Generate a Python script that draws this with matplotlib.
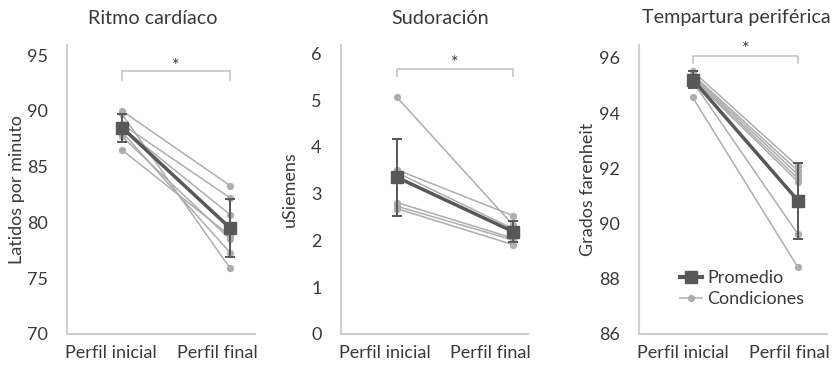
import matplotlib
matplotlib.use("Agg")
import matplotlib.pyplot as plt
from matplotlib.legend_handler import HandlerLine2D

plt.rcParams['font.family'] = ['Lato', 'DejaVu Sans']

# Categories shared by the three panels
categories = ["Perfil inicial", "Perfil final"]

# Ritmo cardíaco (latidos por minuto): one pair per condition
ritmo_inicial = [90.0, 89.7, 88.8, 88.5, 88.1, 87.7, 86.5]
ritmo_final = [83.3, 75.9, 82.2, 80.7, 77.3, 78.5, 78.8]
ritmo_promedio = [88.5, 79.5]
ritmo_de = [1.25, 2.63]

# Sudoración (uSiemens)
sudor_inicial = [5.06, 3.51, 3.45, 3.33, 2.81, 2.73, 2.68]
sudor_final = [2.33, 2.53, 2.25, 2.18, 2.05, 2.01, 1.91]
sudor_promedio = [3.35, 2.19]
sudor_de = [0.83, 0.22]

# Temperatura periférica (grados Fahrenheit)
temp_inicial = [95.52, 95.40, 95.35, 95.30, 95.25, 95.15, 94.57]
temp_final = [92.07, 91.91, 91.77, 91.63, 91.51, 89.61, 88.41]
temp_promedio = [95.22, 90.83]
temp_de = [0.32, 1.38]

titles = ["Ritmo cardíaco", "Sudoración", "Tempartura periférica"]
ylabels = ["Latidos por minuto", "uSiemens", "Grados farenheit"]

DARK = "#585858"
LIGHT = "#adadad"
AXIS = "#d0d0d0"
TEXT = "#3a3a3a"
FS = 13


class LeftMarkerHandler(HandlerLine2D):
    """Legend handle with the marker at the left end of the line."""

    def get_xdata(self, legend, xdescent, ydescent, width, height, fontsize):
        xdata = [-xdescent + 0.2 * width, -xdescent + width]
        return xdata, [-xdescent + 0.2 * width]


W, H = 836, 366
fig = plt.figure(figsize=(W / 100, H / 100), dpi=100)

# panel geometry in pixels: (left, right), x-limits, y-limits, ticks
panels = [
    dict(px=(67, 255), xlim=(-0.509, 1.231), ylim=(70, 95.9),
         yticks=[70, 75, 80, 85, 90, 95],
         ini=ritmo_inicial, fin=ritmo_final, prom=ritmo_promedio, de=ritmo_de,
         bracket=(92.76, 93.57), star=94.75, title_x=153, ylab_x=17),
    dict(px=(341, 528), xlim=(-0.483, 1.129), ylim=(0, 6.18),
         yticks=[0, 1, 2, 3, 4, 5, 6],
         ini=sudor_inicial, fin=sudor_final, prom=sudor_promedio, de=sudor_de,
         bracket=(5.52, 5.67), star=5.97, title_x=440, ylab_x=290),
    dict(px=(639, 827), xlim=(-0.51, 1.275), ylim=(86, 96.47),
         yticks=[86, 88, 90, 92, 94, 96],
         ini=temp_inicial, fin=temp_final, prom=temp_promedio, de=temp_de,
         bracket=(95.82, 96.06), star=96.63, title_x=736, ylab_x=588),
]

ax_bottom, ax_top = 334, 45
xs = [0, 1]

for i, p in enumerate(panels):
    l, r = p["px"]
    ax = fig.add_axes([l / W, (H - ax_bottom) / H, (r - l) / W, (ax_bottom - ax_top) / H])
    ax.set_xlim(*p["xlim"])
    ax.set_ylim(*p["ylim"])

    for a, b in zip(p["ini"], p["fin"]):
        ax.plot(xs, [a, b], color=LIGHT, lw=1.1, marker="o", ms=4.2,
                mfc=LIGHT, mec=LIGHT, zorder=2)
    ax.errorbar(xs, p["prom"], yerr=p["de"], fmt="none", ecolor=DARK,
                elinewidth=1.4, capsize=3.8, capthick=1.4, zorder=3)
    ax.plot(xs, p["prom"], color=DARK, lw=2.5, marker="s", ms=9,
            mfc=DARK, mec=DARK, zorder=4)

    # significance bracket
    lo, hi = p["bracket"]
    ax.plot([0, 0, 1, 1], [lo, hi, hi, lo], color="#bfbfbf", lw=1.1,
            clip_on=False, zorder=1)
    ax.text(0.5, p["star"], "*", ha="center", va="top", fontsize=13,
            color=TEXT, clip_on=False)

    for side in ("top", "right"):
        ax.spines[side].set_visible(False)
    for side in ("left", "bottom"):
        ax.spines[side].set_color(AXIS)
        ax.spines[side].set_linewidth(1.5)

    ax.set_yticks(p["yticks"])
    ax.set_yticklabels([str(t) for t in p["yticks"]])
    x0, x1 = p["xlim"]
    ax.set_xticks([x0 + 0.235 * (x1 - x0), x0 + 0.80 * (x1 - x0)])
    ax.set_xticklabels(categories)
    ax.tick_params(axis="y", length=0, pad=14, labelsize=FS, labelcolor=TEXT)
    ax.tick_params(axis="x", length=0, pad=8, labelsize=FS, labelcolor=TEXT)

    ax.set_ylabel(ylabels[i], fontsize=FS, color=TEXT)
    ax.yaxis.set_label_coords((p["ylab_x"] - l) / (r - l), 0.5)
    ax.yaxis.label.set_verticalalignment("center")

    fig.text(p["title_x"] / W, 1 - 18 / H, titles[i], ha="center", va="center",
             fontsize=14.2, color=TEXT)

    if i == 2:
        h1, = ax.plot([], [], color=DARK, lw=3, marker="s", ms=9, label="Promedio")
        h2, = ax.plot([], [], color=LIGHT, lw=1.1, marker="o", ms=4.2, label="Condiciones")
        ax.legend(handles=[h1, h2], loc="upper left", bbox_to_anchor=(0.19, 0.22),
                  frameon=False, fontsize=FS, labelcolor=TEXT, handlelength=1.5,
                  handletextpad=0.3, labelspacing=0.25, borderpad=0,
                  borderaxespad=0,
                  handler_map={h1: LeftMarkerHandler(), h2: LeftMarkerHandler()})

fig.savefig("out.png", dpi=100)
